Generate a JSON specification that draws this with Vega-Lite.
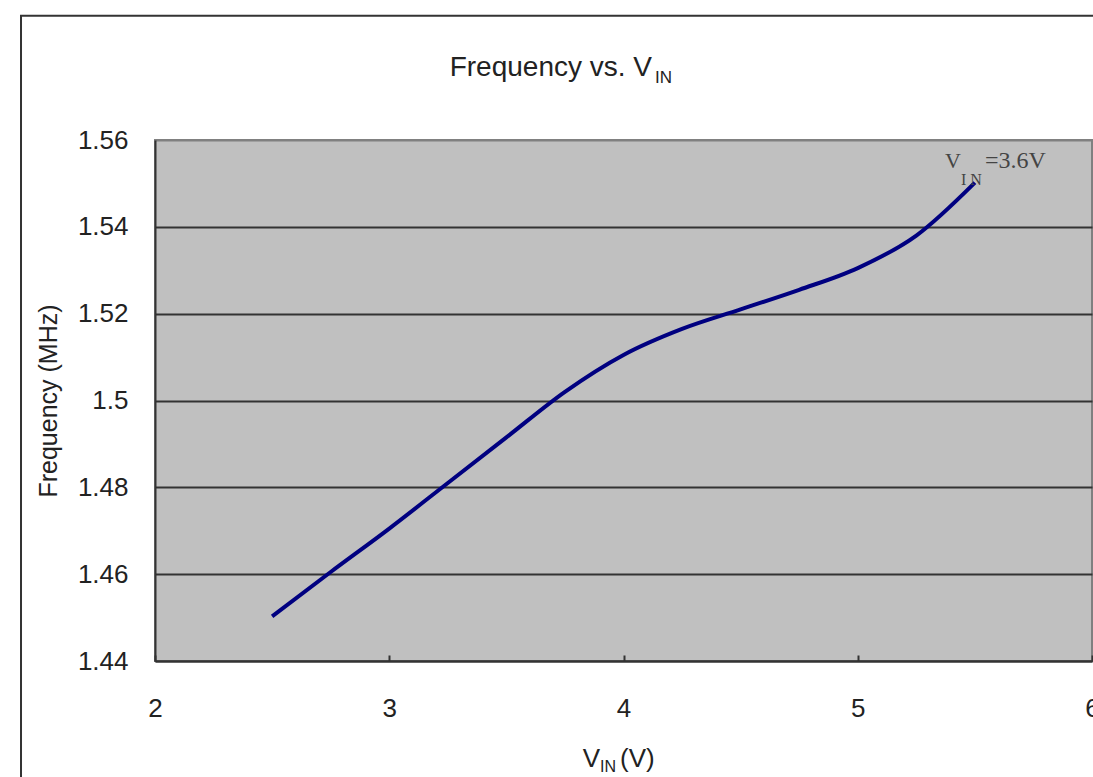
{
  "$schema": "https://vega.github.io/schema/vega-lite/v6.json",
  "autosize": "none",
  "padding": {"left": 155, "top": 140, "right": 1, "bottom": 116},
  "width": 937,
  "height": 521,
  "background": "white",
  "config": {
    "font": "Liberation Sans",
    "view": {"fill": "#c0c0c0", "stroke": "#808080", "strokeWidth": 2},
    "axis": {"labelFont": "Liberation Sans", "titleFont": "Liberation Sans", "labelColor": "#222", "titleColor": "#222", "domainColor": "#333", "domainWidth": 2}
  },
  "layer": [
    {
      "data": {"values": [{"t": 1}]},
      "mark": {"type": "rect", "fill": null, "stroke": "#333", "strokeWidth": 2, "clip": false},
      "encoding": {
        "x": {"datum": 1.428, "type": "quantitative", "scale": {"domain": [2, 6], "nice": false, "zero": false}},
        "x2": {"datum": 6.3},
        "y": {"datum": 1.5886, "type": "quantitative", "scale": {"domain": [1.44, 1.56], "nice": false, "zero": false}},
        "y2": {"datum": 1.38}
      }
    },
    {
      "data": {"values": [
        {"vin": 2.5, "freq": 1.4503},
        {"vin": 2.75, "freq": 1.4605},
        {"vin": 3.0, "freq": 1.4705},
        {"vin": 3.25, "freq": 1.481},
        {"vin": 3.5, "freq": 1.4915},
        {"vin": 3.75, "freq": 1.502},
        {"vin": 4.0, "freq": 1.5105},
        {"vin": 4.25, "freq": 1.5165},
        {"vin": 4.5, "freq": 1.521},
        {"vin": 4.75, "freq": 1.5255},
        {"vin": 5.0, "freq": 1.5305},
        {"vin": 5.25, "freq": 1.538},
        {"vin": 5.5, "freq": 1.5502}
      ]},
      "mark": {"type": "line", "color": "#000080", "strokeWidth": 4, "interpolate": "monotone"},
      "encoding": {
        "x": {
          "field": "vin", "type": "quantitative",
          "scale": {"domain": [2, 6], "nice": false, "zero": false},
          "axis": {"values": [2, 3, 4, 5, 6], "title": null, "grid": false, "ticks": true, "tickSize": -6, "tickColor": "#333", "tickWidth": 2, "labelPadding": 40, "labelFontSize": 26, "labelFlush": false, "labelOverlap": false, "format": "d"}
        },
        "y": {
          "field": "freq", "type": "quantitative",
          "scale": {"domain": [1.44, 1.56], "nice": false, "zero": false},
          "axis": {"values": [1.44, 1.46, 1.48, 1.5, 1.52, 1.54, 1.56], "labelExpr": "format(datum.value, '.3~g')", "grid": true, "gridColor": {"condition": {"test": "datum.value > 1.555", "value": "#808080"}, "value": "#333"}, "gridWidth": 2, "ticks": false, "labelPadding": 27, "labelFontSize": 26, "labelFlush": false, "labelOverlap": false, "title": "Frequency (MHz)", "titleFontSize": 25, "titleFontWeight": "normal", "titlePadding": 16}
        }
      }
    },
    {
      "data": {"values": [{"t": "Frequency vs. V"}]},
      "mark": {"type": "text", "align": "right", "baseline": "alphabetic", "fontSize": 28, "font": "Liberation Sans", "color": "#222"},
      "encoding": {"text": {"field": "t"}, "x": {"datum": 4.1217}, "y": {"datum": 1.5747}}
    },
    {
      "data": {"values": [{"t": "IN"}]},
      "mark": {"type": "text", "align": "left", "baseline": "alphabetic", "fontSize": 17, "font": "Liberation Sans", "color": "#222"},
      "encoding": {"text": {"field": "t"}, "x": {"datum": 4.1345}, "y": {"datum": 1.5731}}
    },
    {
      "data": {"values": [{"t": "V"}]},
      "mark": {"type": "text", "align": "right", "baseline": "alphabetic", "fontSize": 26, "font": "Liberation Sans", "color": "#222"},
      "encoding": {"text": {"field": "t"}, "x": {"datum": 3.8997}, "y": {"datum": 1.4156}}
    },
    {
      "data": {"values": [{"t": "IN"}]},
      "mark": {"type": "text", "align": "left", "baseline": "alphabetic", "fontSize": 16, "font": "Liberation Sans", "color": "#222"},
      "encoding": {"text": {"field": "t"}, "x": {"datum": 3.9}, "y": {"datum": 1.4144}}
    },
    {
      "data": {"values": [{"t": "(V)"}]},
      "mark": {"type": "text", "align": "left", "baseline": "alphabetic", "fontSize": 26, "font": "Liberation Sans", "color": "#222"},
      "encoding": {"text": {"field": "t"}, "x": {"datum": 3.985}, "y": {"datum": 1.4156}}
    },
    {
      "data": {"values": [{"t": "V"}]},
      "mark": {"type": "text", "align": "left", "baseline": "alphabetic", "fontSize": 22, "font": "Liberation Serif", "color": "#444"},
      "encoding": {"text": {"field": "t"}, "x": {"datum": 5.3725}, "y": {"datum": 1.5536}}
    },
    {
      "data": {"values": [{"t": "I N"}]},
      "mark": {"type": "text", "align": "left", "baseline": "alphabetic", "fontSize": 16, "font": "Liberation Serif", "color": "#444"},
      "encoding": {"text": {"field": "t"}, "x": {"datum": 5.4408}, "y": {"datum": 1.5496}}
    },
    {
      "data": {"values": [{"t": "=3.6V"}]},
      "mark": {"type": "text", "align": "left", "baseline": "alphabetic", "fontSize": 24, "font": "Liberation Serif", "color": "#444"},
      "encoding": {"text": {"field": "t"}, "x": {"datum": 5.5432}, "y": {"datum": 1.5536}}
    }
  ]
}
